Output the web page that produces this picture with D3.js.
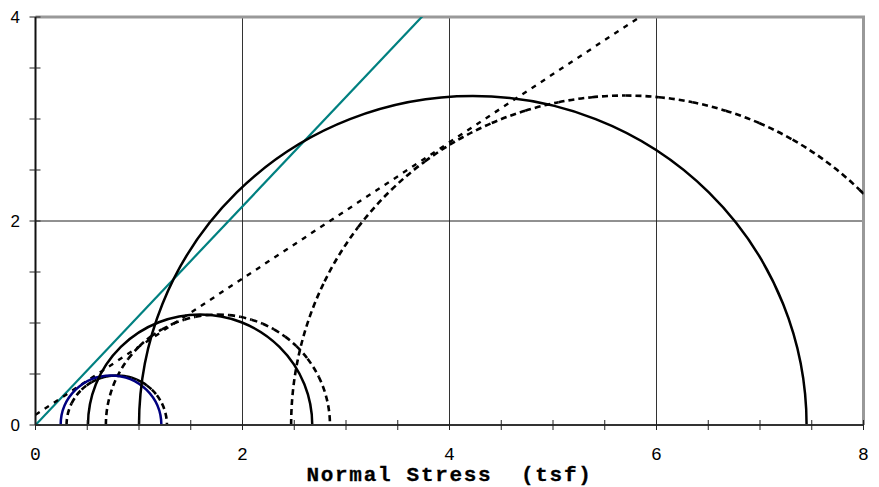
<!DOCTYPE html>
<html>
<head>
<meta charset="utf-8">
<script src="https://cdn.jsdelivr.net/npm/d3@7"></script>
<style>
  html, body { margin: 0; padding: 0; background: #fff; }
  svg { display: block; }
</style>
</head>
<body>
<svg id="chart" width="879" height="487"></svg>
<script>
// Mohr circles: minor / major principal stress (tsf)
const totalSigma3 = [0.243, 0.507, 1.00];
const totalSigma1 = [1.216, 2.674, 7.45];
const totalColors = ["#000080", "#000000", "#000000"];
const effSigma3 = [0.30, 0.68, 2.47];
const effSigma1 = [1.27, 2.845, 8.93];

// Failure envelopes: tau = c + sigma * tan(phi)
const envIntercept = [0.0, 0.10];
const envSlope = [1.072, 0.668];
const envDashed = [false, true];
const envColors = ["#008080", "#000000"];

// Axes
const xTicksMajor = [0, 2, 4, 6, 8];
const yTicksMajor = [0, 2, 4];
const xTicksMinor = d3.range(0, 8.01, 0.5);
const yTicksMinor = d3.range(0, 4.01, 0.5);
const xTitle = "Normal Stress  (tsf)";

const svg = d3.select("#chart");
const L = 35.5, R = 863.5, T = 17, B = 425;
const x = d3.scaleLinear().domain([0, 8]).range([L, R]);
const y = d3.scaleLinear().domain([0, 4]).range([B, T]);

svg.append("defs").append("clipPath").attr("id", "plot")
  .append("rect").attr("x", L).attr("y", T).attr("width", R - L).attr("height", B - T);

// gridlines
const grid = svg.append("g");
grid.selectAll("line.gx").data(xTicksMajor.filter(d => d > 0 && d < 8)).join("line")
  .attr("x1", d => x(d)).attr("x2", d => x(d)).attr("y1", T).attr("y2", B)
  .attr("stroke", "#333").attr("stroke-width", 1);
grid.selectAll("line.gy").data(yTicksMajor.filter(d => d > 0 && d < 4)).join("line")
  .attr("y1", d => y(d)).attr("y2", d => y(d)).attr("x1", L).attr("x2", R)
  .attr("stroke", "#222").attr("stroke-width", 1);

// top and right frame
svg.append("path").attr("d", `M${L},${T}H${R}V${B}`)
  .attr("fill", "none").attr("stroke", "#999").attr("stroke-width", 3);

const plot = svg.append("g").attr("clip-path", "url(#plot)");

const kx = x(1) - x(0), ky = y(0) - y(1);

// solid semicircle as one elliptical arc in pixel space
function semicircle(s3, s1) {
  const r = (s1 - s3) / 2;
  return `M${x(s3)},${y(0)} A${r * kx},${r * ky} 0 0 1 ${x(s1)},${y(0)}`;
}

// dashed semicircle: arc pieces between stations evenly spaced in sigma,
// each piece stroked on its own so the dash pattern starts over on each
function dashedPieces(s3, s1, n) {
  const c = (s3 + s1) / 2, r = (s1 - s3) / 2;
  const pts = d3.range(n + 1).map(i => {
    const s = s3 + (s1 - s3) * i / n;
    const t = Math.sqrt(Math.max(0, r * r - (s - c) * (s - c)));
    return [x(s), y(t)];
  });
  return d3.range(n).map(i =>
    `M${pts[i][0]},${pts[i][1]} A${r * kx},${r * ky} 0 0 1 ${pts[i + 1][0]},${pts[i + 1][1]}`);
}

// envelopes
envIntercept.forEach((c, i) => {
  plot.append("line")
    .attr("x1", x(0)).attr("y1", y(c))
    .attr("x2", x(8)).attr("y2", y(c + envSlope[i] * 8))
    .attr("stroke", envColors[i]).attr("stroke-width", envDashed[i] ? 2.4 : 2.2)
    .attr("stroke-dasharray", envDashed[i] ? "5,6" : null);
});

// effective stress circles (dashed)
effSigma3.forEach((s3, i) => {
  plot.append("g").selectAll("path")
    .data(dashedPieces(s3, effSigma1[i], 20)).join("path")
    .attr("d", d => d).attr("fill", "none")
    .attr("stroke", "#000").attr("stroke-width", 2.6)
    .attr("stroke-dasharray", "6,4");
});

// total stress circles (solid)
totalSigma3.forEach((s3, i) => {
  plot.append("path").attr("d", semicircle(s3, totalSigma1[i]))
    .attr("fill", "none").attr("stroke", totalColors[i]).attr("stroke-width", 2.5);
});

// axes lines
svg.append("line").attr("x1", L).attr("x2", L).attr("y1", T).attr("y2", B)
  .attr("stroke", "#111").attr("stroke-width", 2);
svg.append("line").attr("x1", L).attr("x2", R).attr("y1", B).attr("y2", B)
  .attr("stroke", "#333").attr("stroke-width", 2);

// ticks crossing the axes
svg.append("g").selectAll("line").data(xTicksMinor).join("line")
  .attr("x1", d => x(d)).attr("x2", d => x(d)).attr("y1", B - 5).attr("y2", B + 5)
  .attr("stroke", "#222").attr("stroke-width", 1);
svg.append("g").selectAll("line").data(yTicksMinor).join("line")
  .attr("y1", d => y(d)).attr("y2", d => y(d)).attr("x1", L - 6).attr("x2", L + 5)
  .attr("stroke", "#222").attr("stroke-width", 1);

// tick labels
svg.append("g").selectAll("text").data(xTicksMajor).join("text")
  .attr("x", d => x(d)).attr("y", 460)
  .attr("text-anchor", "middle")
  .attr("font-family", "'Liberation Mono', 'Courier New', monospace")
  .attr("font-size", 18).attr("fill", "#000")
  .text(d => d);
svg.append("g").selectAll("text").data(yTicksMajor).join("text")
  .attr("x", 20).attr("y", d => y(d))
  .attr("text-anchor", "end").attr("dominant-baseline", "central")
  .attr("font-family", "'Liberation Sans', Arial, sans-serif")
  .attr("font-size", 17).attr("fill", "#000")
  .text(d => d);

// axis title
svg.append("text").attr("x", (L + R) / 2).attr("y", 481)
  .attr("text-anchor", "middle")
  .attr("font-family", "'Liberation Mono', 'Courier New', monospace")
  .attr("font-weight", "bold").attr("font-size", 21)
  .attr("letter-spacing", 1.7)
  .attr("stroke", "#000").attr("stroke-width", 0.3)
  .attr("xml:space", "preserve").style("white-space", "pre")
  .text(xTitle);
</script>
</body>
</html>
